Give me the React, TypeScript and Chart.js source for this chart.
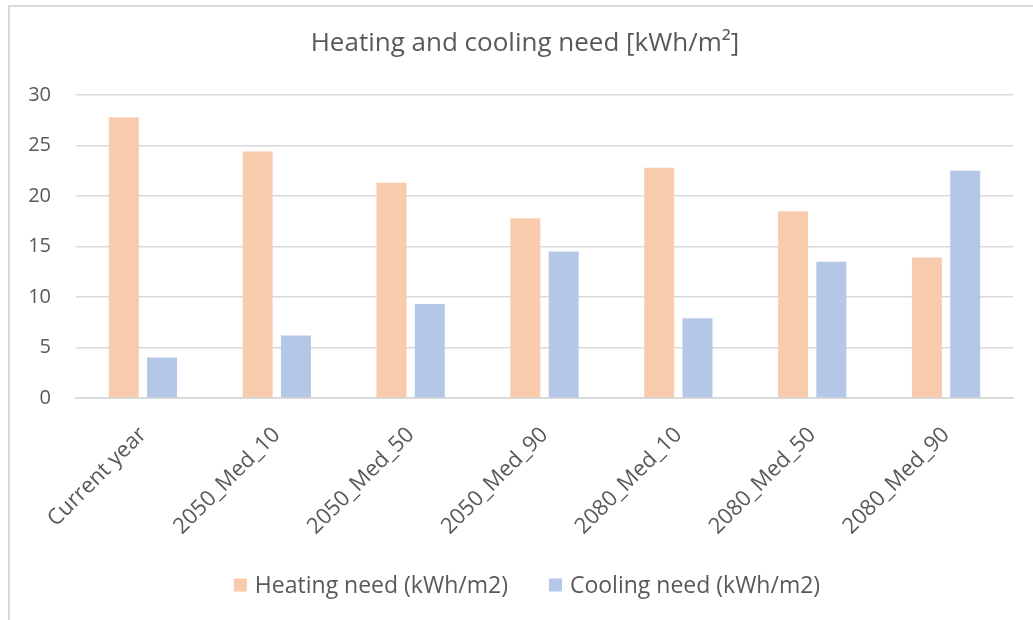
import React, { useEffect, useRef } from "react";
import { Chart, registerables } from "chart.js";

Chart.register(...registerables);

const categories = [
  "Current year",
  "2050_Med_10",
  "2050_Med_50",
  "2050_Med_90",
  "2080_Med_10",
  "2080_Med_50",
  "2080_Med_90",
];

const heatingNeed = [27.8, 24.4, 21.3, 17.8, 22.8, 18.5, 13.9];
const coolingNeed = [4.0, 6.2, 9.3, 14.5, 7.9, 13.5, 22.5];

const yTicks = [0, 5, 10, 15, 20, 25, 30];

const TITLE = "Heating and cooling need [kWh/m²]";

const FONT = "'Open Sans', 'Noto Sans', sans-serif";
const TEXT = "#595959";
const GRID = "#d9d9d9";

// Title centred on the framed panel, and a one-row legend under the chart
const panelText = {
  id: "panelText",
  afterDraw(chart: any) {
    const ctx = chart.ctx;
    ctx.save();
    ctx.fillStyle = TEXT;
    ctx.textBaseline = "middle";
    ctx.textAlign = "center";
    ctx.font = `26px ${FONT}`;
    ctx.fillText(TITLE, 525, 44);

    const size = 23;
    const box = 13;
    const boxGap = 8;
    const itemGap = 41;
    const y = 585;
    ctx.font = `${size}px ${FONT}`;
    const items = chart.data.datasets.map((ds: any) => ({
      label: ds.label as string,
      color: ds.backgroundColor as string,
      w: ctx.measureText(ds.label).width,
    }));
    const total =
      items.reduce((s: number, it: any) => s + box + boxGap + it.w, 0) +
      itemGap * (items.length - 1);
    let x = 527 - total / 2;
    ctx.textAlign = "left";
    for (const it of items) {
      ctx.fillStyle = it.color;
      ctx.fillRect(x, y - box / 2, box, box);
      x += box + boxGap;
      ctx.fillStyle = TEXT;
      ctx.fillText(it.label, x, y + 1);
      x += it.w + itemGap;
    }
    ctx.restore();
  },
};

export default function App() {
  const canvasRef = useRef<HTMLCanvasElement | null>(null);

  useEffect(() => {
    document.body.style.margin = "0";
    document.body.style.overflow = "hidden";
    const canvas = canvasRef.current;
    if (!canvas) return;
    const chart = new Chart(canvas, {
      type: "bar",
      data: {
        labels: categories,
        datasets: [
          {
            label: "Heating need (kWh/m2)",
            data: heatingNeed,
            backgroundColor: "#f8cbad",
            categoryPercentage: 0.572,
            barPercentage: 0.783,
          },
          {
            label: "Cooling need (kWh/m2)",
            data: coolingNeed,
            backgroundColor: "#b4c7e7",
            categoryPercentage: 0.572,
            barPercentage: 0.783,
          },
        ],
      },
      plugins: [panelText],
      options: {
        responsive: false,
        animation: false,
        layout: { padding: { left: 18, right: 20, top: 95, bottom: 72 } },
        plugins: {
          title: { display: false },
          legend: { display: false },
          tooltip: { enabled: false },
        },
        scales: {
          x: {
            grid: { display: false },
            border: { display: true, color: GRID, width: 2 },
            ticks: {
              color: TEXT,
              font: { family: FONT, size: 22 },
              minRotation: 45,
              maxRotation: 45,
              padding: 16,
            },
            afterFit: (scale: any) => {
              scale.height = 150;
            },
          },
          y: {
            min: 0,
            max: 30,
            afterBuildTicks: (scale: any) => {
              scale.ticks = yTicks.map((v) => ({ value: v }));
            },
            grid: { color: GRID, lineWidth: 1.5, drawTicks: false },
            border: { display: false },
            ticks: {
              color: TEXT,
              font: { family: FONT, size: 20 },
              padding: 25,
            },
            afterFit: (scale: any) => {
              scale.width = 58;
            },
          },
        },
      },
    });
    return () => chart.destroy();
  }, []);

  return (
    <div style={{ position: "fixed", left: 0, top: 0, width: 1033, height: 620, overflow: "hidden", background: "#fff" }}>
      <canvas ref={canvasRef} width={1033} height={620} style={{ position: "absolute", left: 0, top: 0 }} />
      <div
        style={{
          position: "absolute",
          left: 8,
          top: 5,
          width: 1100,
          height: 700,
          borderLeft: `2px solid ${GRID}`,
          borderTop: `2px solid ${GRID}`,
          pointerEvents: "none",
        }}
      />
    </div>
  );
}
